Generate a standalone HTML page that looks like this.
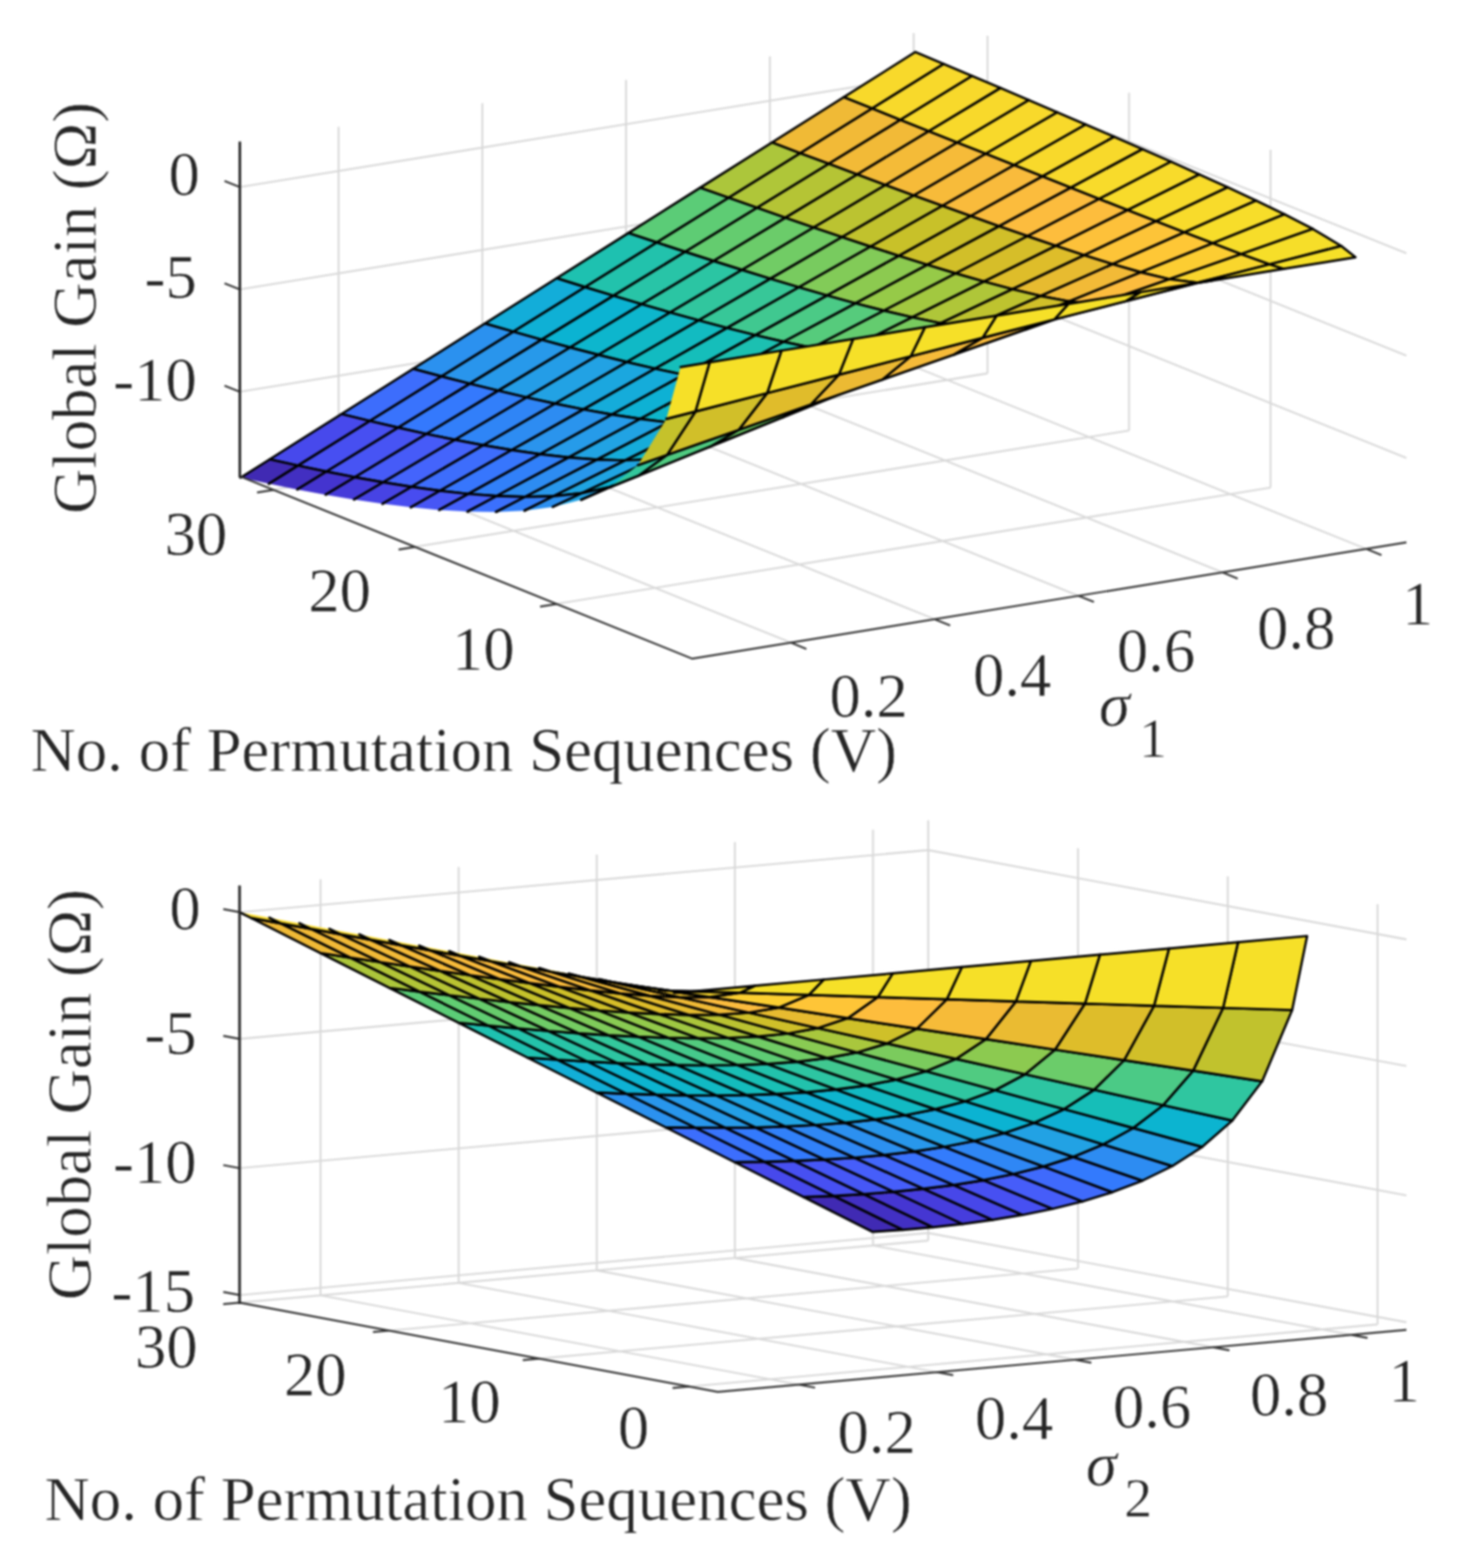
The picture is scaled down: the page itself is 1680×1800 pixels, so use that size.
<!DOCTYPE html>
<html lang="en"><head><meta charset="utf-8"><title>Global Gain surfaces</title>
<style>html,body{margin:0;padding:0;background:#fff;overflow:hidden}svg{display:block}</style></head>
<body>
<svg width="1680" height="1800" viewBox="0 0 1680 1800">
<defs><filter id="soft" x="0" y="0" width="1680" height="1800" filterUnits="userSpaceOnUse" color-interpolation-filters="sRGB"><feGaussianBlur stdDeviation="0.9"/></filter></defs>
<rect width="1680" height="1800" fill="#fff"/>
<g filter="url(#soft)">
<rect width="1680" height="1800" fill="#fff"/>
<path d="M908.4,737.8 L388.8,528.2 M388.8,528.2 L388.8,145.5 M1073.5,710.9 L553.9,501.3 M553.9,501.3 L553.9,118.6 M1238.5,684 L718.9,474.4 M718.9,474.4 L718.9,91.7 M1403.7,657 L884.1,447.5 M884.1,447.5 L884.1,64.8 M1568.8,630.1 L1049.2,420.6 M1049.2,420.6 L1049.2,37.9 M639,693.3 L1459,559.7 M1459,559.7 L1459,172 M476.5,627.8 L1296.5,494.2 M1296.5,494.2 L1296.5,106.5 M314,562.3 L1134,428.6 M1134,428.6 L1134,40.9 M275.4,214.8 L1095.4,81.2 M1095.4,81.2 L1615,290.7 M275.4,332.3 L1095.4,198.7 M1095.4,198.7 L1615,408.2 M275.4,449.8 L1095.4,316.2 M1095.4,316.2 L1615,525.7" fill="none" stroke="#d8d8d8" stroke-width="2.1"/>
<g stroke="#000" stroke-width="2.7" stroke-linejoin="round" stroke-linecap="round">
<polygon points="1001.4,124.6 1083.8,73.4 1051.2,59.7 968.8,111.6" fill="#f8d92b"/>
<polygon points="919,175.9 1001.4,124.6 968.8,111.6 886.4,163.6" fill="#f0ba36"/>
<polygon points="1034,137.7 1116.4,87.2 1083.8,73.4 1001.4,124.6" fill="#f8d92b"/>
<polygon points="836.6,227.1 919,175.9 886.4,163.6 804,215.5" fill="#acc63b"/>
<polygon points="951.6,188.1 1034,137.7 1001.4,124.6 919,175.9" fill="#f2ba37"/>
<polygon points="1066.6,150.7 1149,101 1116.4,87.2 1034,137.7" fill="#f8d92b"/>
<polygon points="754.2,278.4 836.6,227.1 804,215.5 721.6,267.5" fill="#5bcc77"/>
<polygon points="869.2,238.6 951.6,188.1 919,175.9 836.6,227.1" fill="#afc639"/>
<polygon points="984.2,200.3 1066.6,150.7 1034,137.7 951.6,188.1" fill="#f2ba37"/>
<polygon points="1099.2,163.7 1181.6,114.9 1149,101 1066.6,150.7" fill="#f8d92b"/>
<polygon points="671.8,329.6 754.2,278.4 721.6,267.5 639.2,319.4" fill="#1ec1b0"/>
<polygon points="786.8,289.1 869.2,238.6 836.6,227.1 754.2,278.4" fill="#5ecc74"/>
<polygon points="901.8,250 984.2,200.3 951.6,188.1 869.2,238.6" fill="#b5c435"/>
<polygon points="1016.8,212.4 1099.2,163.7 1066.6,150.7 984.2,200.3" fill="#f4bb38"/>
<polygon points="1131.8,176.6 1214.2,128.9 1181.6,114.9 1099.2,163.7" fill="#f8d92b"/>
<polygon points="589.4,380.8 671.8,329.6 639.2,319.4 556.8,371.4" fill="#13add9"/>
<polygon points="704.4,339.5 786.8,289.1 754.2,278.4 671.8,329.6" fill="#22c2ac"/>
<polygon points="819.4,299.6 901.8,250 869.2,238.6 786.8,289.1" fill="#64cc6f"/>
<polygon points="934.4,261.2 1016.8,212.4 984.2,200.3 901.8,250" fill="#b8c433"/>
<polygon points="1049.4,224.4 1131.8,176.6 1099.2,163.7 1016.8,212.4" fill="#f6bb39"/>
<polygon points="507,432.1 589.4,380.8 556.8,371.4 474.4,423.4" fill="#2b91ef"/>
<polygon points="1164.4,189.6 1246.8,142.9 1214.2,128.9 1131.8,176.6" fill="#f8d92b"/>
<polygon points="622,390 704.4,339.5 671.8,329.6 589.4,380.8" fill="#0fb0d5"/>
<polygon points="737,349.2 819.4,299.6 786.8,289.1 704.4,339.5" fill="#28c4a7"/>
<polygon points="852,309.9 934.4,261.2 901.8,250 819.4,299.6" fill="#6bcc6a"/>
<polygon points="967,272.2 1049.4,224.4 1016.8,212.4 934.4,261.2" fill="#bbc331"/>
<polygon points="424.6,483.3 507,432.1 474.4,423.4 392,475.3" fill="#3d6dfc"/>
<polygon points="1082,236.3 1164.4,189.6 1131.8,176.6 1049.4,224.4" fill="#f7bb3a"/>
<polygon points="539.6,440.5 622,390 589.4,380.8 507,432.1" fill="#2995ec"/>
<polygon points="1197,202.5 1279.4,157 1246.8,142.9 1164.4,189.6" fill="#f8d92b"/>
<polygon points="654.6,398.9 737,349.2 704.4,339.5 622,390" fill="#0bb3d2"/>
<polygon points="769.6,358.7 852,309.9 819.4,299.6 737,349.2" fill="#2bc5a3"/>
<polygon points="884.6,320 967,272.2 934.4,261.2 852,309.9" fill="#71cc65"/>
<polygon points="342.2,534.5 424.6,483.3 392,475.3 309.6,527.3" fill="#4749ec"/>
<polygon points="999.6,283.1 1082,236.3 1049.4,224.4 967,272.2" fill="#c1c22d"/>
<polygon points="457.2,490.9 539.6,440.5 507,432.1 424.6,483.3" fill="#3973fd"/>
<polygon points="1114.6,248.1 1197,202.5 1164.4,189.6 1082,236.3" fill="#f9bb3c"/>
<polygon points="572.2,448.5 654.6,398.9 622,390 539.6,440.5" fill="#2799ea"/>
<polygon points="1229.6,215.5 1312,171.2 1279.4,157 1197,202.5" fill="#f8d92b"/>
<polygon points="308.8,555.3 342.2,534.5 309.6,527.3 276.2,548.3" fill="#402ab3" stroke="none"/>
<path d="M308.8,555.3 L342.2,534.5 M342.2,534.5 L309.6,527.3 M309.6,527.3 L276.2,548.3" fill="none"/>
<polygon points="687.2,407.4 769.6,358.7 737,349.2 654.6,398.9" fill="#0db6cd"/>
<polygon points="802.2,367.8 884.6,320 852,309.9 769.6,358.7" fill="#31c69e"/>
<polygon points="917.2,329.8 999.6,283.1 967,272.2 884.6,320" fill="#78cb5f"/>
<polygon points="374.8,541.4 457.2,490.9 424.6,483.3 342.2,534.5" fill="#474ff1"/>
<polygon points="1032.2,293.7 1114.6,248.1 1082,236.3 999.6,283.1" fill="#c8c129"/>
<polygon points="489.8,498.2 572.2,448.5 539.6,440.5 457.2,490.9" fill="#3479fd"/>
<polygon points="1147.2,259.7 1229.6,215.5 1197,202.5 1114.6,248.1" fill="#fbbc3d"/>
<polygon points="604.8,456.2 687.2,407.4 654.6,398.9 572.2,448.5" fill="#249de7"/>
<polygon points="1262.2,228.4 1344.6,185.6 1312,171.2 1229.6,215.5" fill="#f8db2b"/>
<polygon points="341.4,561.9 374.8,541.4 342.2,534.5 308.8,555.3" fill="#422fc1" stroke="none"/>
<path d="M341.4,561.9 L374.8,541.4 M374.8,541.4 L342.2,534.5 M342.2,534.5 L308.8,555.3" fill="none"/>
<polygon points="719.8,415.6 802.2,367.8 769.6,358.7 687.2,407.4" fill="#10b9c6"/>
<polygon points="834.8,376.5 917.2,329.8 884.6,320 802.2,367.8" fill="#37c798"/>
<polygon points="949.8,339.2 1032.2,293.7 999.6,283.1 917.2,329.8" fill="#82cb58"/>
<polygon points="407.4,547.8 489.8,498.2 457.2,490.9 374.8,541.4" fill="#4754f4"/>
<polygon points="1064.8,304 1147.2,259.7 1114.6,248.1 1032.2,293.7" fill="#cdc029"/>
<polygon points="522.4,504.9 604.8,456.2 572.2,448.5 489.8,498.2" fill="#327ffa"/>
<polygon points="1179.8,271.1 1262.2,228.4 1229.6,215.5 1147.2,259.7" fill="#fcbc3e"/>
<polygon points="1294.8,241.2 1377.2,200.2 1344.6,185.6 1262.2,228.4" fill="#f8db2b"/>
<polygon points="637.4,463.4 719.8,415.6 687.2,407.4 604.8,456.2" fill="#22a2e4"/>
<polygon points="374,567.9 407.4,547.8 374.8,541.4 341.4,561.9" fill="#4434cf" stroke="none"/>
<path d="M374,567.9 L407.4,547.8 M407.4,547.8 L374.8,541.4 M374.8,541.4 L341.4,561.9" fill="none"/>
<polygon points="752.4,423.2 834.8,376.5 802.2,367.8 719.8,415.6" fill="#12bbc1"/>
<polygon points="867.4,384.8 949.8,339.2 917.2,329.8 834.8,376.5" fill="#40c890"/>
<polygon points="982.4,348.2 1064.8,304 1032.2,293.7 949.8,339.2" fill="#8cca50"/>
<polygon points="440,553.7 522.4,504.9 489.8,498.2 407.4,547.8" fill="#465bf8"/>
<polygon points="1097.4,313.9 1179.8,271.1 1147.2,259.7 1064.8,304" fill="#d1bf29"/>
<polygon points="555,511.1 637.4,463.4 604.8,456.2 522.4,504.9" fill="#2f85f6"/>
<polygon points="1212.4,282.2 1294.8,241.2 1262.2,228.4 1179.8,271.1" fill="#fdbd3d"/>
<polygon points="1327.4,254 1409.8,215 1377.2,200.2 1294.8,241.2" fill="#f8db2b"/>
<polygon points="670,470 752.4,423.2 719.8,415.6 637.4,463.4" fill="#1ba7df"/>
<polygon points="406.6,573.4 440,553.7 407.4,547.8 374,567.9" fill="#453bda" stroke="none"/>
<path d="M406.6,573.4 L440,553.7 M440,553.7 L407.4,547.8 M407.4,547.8 L374,567.9" fill="none"/>
<polygon points="785,430.3 867.4,384.8 834.8,376.5 752.4,423.2" fill="#15beba"/>
<polygon points="900,392.4 982.4,348.2 949.8,339.2 867.4,384.8" fill="#4bca86"/>
<polygon points="1015,356.6 1097.4,313.9 1064.8,304 982.4,348.2" fill="#96ca48"/>
<polygon points="472.6,558.9 555,511.1 522.4,504.9 440,553.7" fill="#4464fc"/>
<polygon points="1130,323.3 1212.4,282.2 1179.8,271.1 1097.4,313.9" fill="#d6be29"/>
<polygon points="1245,293 1327.4,254 1294.8,241.2 1212.4,282.2" fill="#fdc13a"/>
<polygon points="587.6,516.7 670,470 637.4,463.4 555,511.1" fill="#2d8cf2"/>
<polygon points="1360,266.7 1442.4,230.2 1409.8,215 1327.4,254" fill="#f8db2b"/>
<polygon points="702.6,475.9 785,430.3 752.4,423.2 670,470" fill="#15acda"/>
<polygon points="817.6,436.7 900,392.4 867.4,384.8 785,430.3" fill="#1cc0b1"/>
<polygon points="439.2,578.3 472.6,558.9 440,553.7 406.6,573.4" fill="#4743e4" stroke="none"/>
<path d="M439.2,578.3 L472.6,558.9 M472.6,558.9 L440,553.7 M440,553.7 L406.6,573.4" fill="none"/>
<polygon points="932.6,399.4 1015,356.6 982.4,348.2 900,392.4" fill="#56cb7c"/>
<polygon points="1047.6,364.3 1130,323.3 1097.4,313.9 1015,356.6" fill="#a2c840"/>
<polygon points="505.2,563.4 587.6,516.7 555,511.1 472.6,558.9" fill="#3d6dfc"/>
<polygon points="1162.6,332 1245,293 1212.4,282.2 1130,323.3" fill="#debd2a"/>
<polygon points="1277.6,303.2 1360,266.7 1327.4,254 1245,293" fill="#fdc438"/>
<polygon points="620.2,521.4 702.6,475.9 670,470 587.6,516.7" fill="#2a94ed"/>
<polygon points="1392.6,279.3 1475,246 1442.4,230.2 1360,266.7" fill="#f7dd2a"/>
<polygon points="735.2,480.9 817.6,436.7 785,430.3 702.6,475.9" fill="#0eb1d4"/>
<polygon points="850.2,442.1 932.6,399.4 900,392.4 817.6,436.7" fill="#26c3a9"/>
<polygon points="471.8,582.3 505.2,563.4 472.6,558.9 439.2,578.3" fill="#484cf0" stroke="none"/>
<path d="M471.8,582.3 L505.2,563.4 M505.2,563.4 L472.6,558.9 M472.6,558.9 L439.2,578.3" fill="none"/>
<polygon points="965.2,405.4 1047.6,364.3 1015,356.6 932.6,399.4" fill="#64cc6f"/>
<polygon points="1080.2,371 1162.6,332 1130,323.3 1047.6,364.3" fill="#afc639"/>
<polygon points="537.8,567 620.2,521.4 587.6,516.7 505.2,563.4" fill="#3776fd"/>
<polygon points="1195.2,339.8 1277.6,303.2 1245,293 1162.6,332" fill="#e7bb30"/>
<polygon points="1310.2,312.6 1392.6,279.3 1360,266.7 1277.6,303.2" fill="#fec736"/>
<polygon points="652.8,525.2 735.2,480.9 702.6,475.9 620.2,521.4" fill="#269be9"/>
<polygon points="1425.2,291.7 1507.6,262.8 1475,246 1392.6,279.3" fill="#f7dd2a"/>
<polygon points="767.8,484.9 850.2,442.1 817.6,436.7 735.2,480.9" fill="#0eb6cb"/>
<polygon points="882.8,446.4 965.2,405.4 932.6,399.4 850.2,442.1" fill="#31c69e"/>
<polygon points="504.4,585.4 537.8,567 505.2,563.4 471.8,582.3" fill="#4756f5" stroke="none"/>
<path d="M504.4,585.4 L537.8,567 M537.8,567 L505.2,563.4 M505.2,563.4 L471.8,582.3" fill="none"/>
<polygon points="997.8,410.1 1080.2,371 1047.6,364.3 965.2,405.4" fill="#78cb5f"/>
<polygon points="1112.8,376.3 1195.2,339.8 1162.6,332 1080.2,371" fill="#bec32f"/>
<polygon points="1227.8,346 1310.2,312.6 1277.6,303.2 1195.2,339.8" fill="#f2ba37"/>
<polygon points="570.4,569.4 652.8,525.2 620.2,521.4 537.8,567" fill="#3180f9"/>
<polygon points="1342.8,320.5 1425.2,291.7 1392.6,279.3 1310.2,312.6" fill="#fccd32"/>
<polygon points="1457.8,303.5 1540.2,282.4 1507.6,262.8 1425.2,291.7" fill="#f6de29"/>
<polygon points="685.4,527.7 767.8,484.9 735.2,480.9 652.8,525.2" fill="#21a3e3"/>
<polygon points="800.4,487.5 882.8,446.4 850.2,442.1 767.8,484.9" fill="#13bbbf"/>
<polygon points="915.4,449.1 997.8,410.1 965.2,405.4 882.8,446.4" fill="#42c98e"/>
<polygon points="537,587.3 570.4,569.4 537.8,567 504.4,585.4" fill="#4561fc" stroke="none"/>
<path d="M537,587.3 L570.4,569.4 M570.4,569.4 L537.8,567 M537.8,567 L504.4,585.4" fill="none"/>
<polygon points="1030.4,412.8 1112.8,376.3 1080.2,371 997.8,410.1" fill="#8fca4d"/>
<polygon points="1145.4,379.3 1227.8,346 1195.2,339.8 1112.8,376.3" fill="#d1bf29"/>
<polygon points="1474.1,308.7 1556.5,295.3 1540.2,282.4 1457.8,303.5" fill="#f6e028"/>
<polygon points="1260.4,349.3 1342.8,320.5 1310.2,312.6 1227.8,346" fill="#fcbc3e"/>
<polygon points="603,570.4 685.4,527.7 652.8,525.2 570.4,569.4" fill="#2d8cf2"/>
<polygon points="1375.4,324.6 1457.8,303.5 1425.2,291.7 1342.8,320.5" fill="#f9d62d"/>
<polygon points="718,528.5 800.4,487.5 767.8,484.9 685.4,527.7" fill="#15acda"/>
<polygon points="833,488.1 915.4,449.1 882.8,446.4 800.4,487.5" fill="#1ec1b0"/>
<polygon points="948,449.4 1030.4,412.8 997.8,410.1 915.4,449.1" fill="#5bcc77"/>
<polygon points="569.6,587.7 603,570.4 570.4,569.4 537,587.3" fill="#3b70fd" stroke="none"/>
<path d="M569.6,587.7 L603,570.4 M603,570.4 L570.4,569.4 M570.4,569.4 L537,587.3" fill="none"/>
<polygon points="1063,412.6 1145.4,379.3 1112.8,376.3 1030.4,412.8" fill="#acc63b"/>
<polygon points="1391.7,322.1 1474.1,308.7 1457.8,303.5 1375.4,324.6" fill="#f6e028"/>
<polygon points="1178,378.1 1260.4,349.3 1227.8,346 1145.4,379.3" fill="#eabb32"/>
<polygon points="1293,345.7 1375.4,324.6 1342.8,320.5 1260.4,349.3" fill="#fccf31"/>
<polygon points="635.6,569.6 718,528.5 685.4,527.7 603,570.4" fill="#2897eb"/>
<polygon points="750.6,527.1 833,488.1 800.4,487.5 718,528.5" fill="#0db6cd"/>
<polygon points="865.6,485.9 948,449.4 915.4,449.1 833,488.1" fill="#31c69e"/>
<polygon points="980.6,446 1063,412.6 1030.4,412.8 948,449.4" fill="#7fcb5a"/>
<polygon points="602.2,586.2 635.6,569.6 603,570.4 569.6,587.7" fill="#327ffa" stroke="none"/>
<path d="M602.2,586.2 L635.6,569.6 M635.6,569.6 L603,570.4 M603,570.4 L569.6,587.7" fill="none"/>
<polygon points="1095.6,407 1178,378.1 1145.4,379.3 1063,412.6" fill="#cfc029"/>
<polygon points="1309.3,335.5 1391.7,322.1 1375.4,324.6 1293,345.7" fill="#f6e028"/>
<polygon points="1210.6,366.8 1293,345.7 1260.4,349.3 1178,378.1" fill="#fec736"/>
<polygon points="668.2,566.1 750.6,527.1 718,528.5 635.6,569.6" fill="#1fa4e2"/>
<polygon points="783.2,522.4 865.6,485.9 833,488.1 750.6,527.1" fill="#16beb8"/>
<polygon points="898.2,479.3 980.6,446 948,449.4 865.6,485.9" fill="#56cb7c"/>
<polygon points="1013.2,435.8 1095.6,407 1063,412.6 980.6,446" fill="#b2c537"/>
<polygon points="634.8,581.9 668.2,566.1 635.6,569.6 602.2,586.2" fill="#2c90f0" stroke="none"/>
<path d="M634.8,581.9 L668.2,566.1 M668.2,566.1 L635.6,569.6 M635.6,569.6 L602.2,586.2" fill="none"/>
<polygon points="1226.9,348.9 1309.3,335.5 1293,345.7 1210.6,366.8" fill="#f6e028"/>
<polygon points="1128.2,387.9 1210.6,366.8 1178,378.1 1095.6,407" fill="#fdbd3d"/>
<polygon points="700.8,559 783.2,522.4 750.6,527.1 668.2,566.1" fill="#0cb2d3"/>
<polygon points="815.8,512.6 898.2,479.3 865.6,485.9 783.2,522.4" fill="#31c69e"/>
<polygon points="930.8,464.6 1013.2,435.8 980.6,446 898.2,479.3" fill="#93ca4b"/>
<polygon points="1144.5,362.3 1226.9,348.9 1210.6,366.8 1128.2,387.9" fill="#f6e028"/>
<polygon points="667.4,573.8 700.8,559 668.2,566.1 634.8,581.9" fill="#22a2e4" stroke="none"/>
<path d="M667.4,573.8 L700.8,559 M700.8,559 L668.2,566.1 M668.2,566.1 L634.8,581.9" fill="none"/>
<polygon points="1045.8,409 1128.2,387.9 1095.6,407 1013.2,435.8" fill="#f6bb39"/>
<polygon points="733.4,546 815.8,512.6 783.2,522.4 700.8,559" fill="#19bfb5"/>
<polygon points="848.4,493.4 930.8,464.6 898.2,479.3 815.8,512.6" fill="#6ecc67"/>
<polygon points="1062.1,375.7 1144.5,362.3 1128.2,387.9 1045.8,409" fill="#f6e028"/>
<polygon points="963.4,430.1 1045.8,409 1013.2,435.8 930.8,464.6" fill="#ecba33"/>
<polygon points="700,559.5 733.4,546 700.8,559 667.4,573.8" fill="#0db6cd" stroke="none"/>
<path d="M700,559.5 L733.4,546 M733.4,546 L700.8,559 M700.8,559 L667.4,573.8" fill="none"/>
<polygon points="766,522.2 848.4,493.4 815.8,512.6 733.4,546" fill="#50cb81"/>
<polygon points="881,451.2 963.4,430.1 930.8,464.6 848.4,493.4" fill="#e0bc2b"/>
<polygon points="979.7,389.1 1062.1,375.7 1045.8,409 963.4,430.1" fill="#f6e028"/>
<polygon points="732.6,533.9 766,522.2 733.4,546 700,559.5" fill="#33c79c" stroke="none"/>
<path d="M732.6,533.9 L766,522.2 M766,522.2 L733.4,546 M733.4,546 L700,559.5" fill="none"/>
<polygon points="798.6,472.4 881,451.2 848.4,493.4 766,522.2" fill="#d1bf29"/>
<polygon points="897.3,402.5 979.7,389.1 963.4,430.1 881,451.2" fill="#f6e028"/>
<polygon points="765.2,480.9 798.6,472.4 766,522.2 732.6,533.9" fill="#c5c22b" stroke="none"/>
<path d="M765.2,480.9 L798.6,472.4 M798.6,472.4 L766,522.2 M766,522.2 L732.6,533.9" fill="none"/>
<polygon points="814.9,415.9 897.3,402.5 881,451.2 798.6,472.4" fill="#f6e028"/>
<polygon points="781.5,421.3 814.9,415.9 798.6,472.4 765.2,480.9" fill="#f6e028" stroke="none"/>
<path d="M781.5,421.3 L814.9,415.9 M814.9,415.9 L798.6,472.4 M798.6,472.4 L765.2,480.9" fill="none"/>
</g>
<path d="M275.4,546.7 L795,756.2 L1615,622.6 M908.4,737.8 L926,744.9 M1073.5,710.9 L1091.1,718 M1238.5,684 L1256.2,691.1 M1403.7,657 L1421.3,664.2 M1568.8,630.1 L1586.4,637.2 M639,693.3 L620.2,696.4 M476.5,627.8 L457.7,630.9 M314,562.3 L295.2,565.3 M275.4,214.8 L257.8,207.7 M275.4,332.3 L257.8,325.2 M275.4,449.8 L257.8,442.7" fill="none" stroke="#333333" stroke-width="2.2" stroke-linejoin="miter"/>
<path d="M275.4,164 L275.4,546.7" fill="none" stroke="#262626" stroke-width="3.0" stroke-linecap="square"/>
<path d="M917.3,1589.5 L368.1,1487 M368.1,1487 L368.1,1009.6 M1075.9,1575.2 L526.7,1472.7 M526.7,1472.7 L526.7,995.3 M1234.5,1560.9 L685.3,1458.4 M685.3,1458.4 L685.3,981 M1393.1,1546.6 L843.9,1444.1 M843.9,1444.1 L843.9,966.7 M1551.7,1532.3 L1002.5,1429.8 M1002.5,1429.8 L1002.5,952.4 M791.2,1591.7 L1581.9,1520.4 M1581.9,1520.4 L1581.9,1038 M619.2,1559.6 L1409.9,1488.3 M1409.9,1488.3 L1409.9,1005.9 M447.2,1527.5 L1237.9,1456.2 M1237.9,1456.2 L1237.9,973.8 M275.2,1495.4 L1065.9,1424.1 M1065.9,1424.1 L1065.9,941.7 M275.1,1047.2 L1065.8,975.9 M1065.8,975.9 L1615,1078.4 M275.1,1192.6 L1065.8,1121.3 M1065.8,1121.3 L1615,1223.8 M275.1,1341 L1065.8,1269.7 M1065.8,1269.7 L1615,1372.2 M275.1,1486.7 L1065.8,1415.4 M1065.8,1415.4 L1615,1517.9" fill="none" stroke="#d8d8d8" stroke-width="2.1"/>
<g stroke="#000" stroke-width="2.7" stroke-linejoin="round" stroke-linecap="round">
<polygon points="957.3,1372.8 1036.6,1411.8 1002.2,1414.2 922.9,1374.2" fill="#402ab3"/>
<polygon points="991.7,1370.8 1071,1408.8 1036.6,1411.8 957.3,1372.8" fill="#4230c4"/>
<polygon points="878,1333.7 957.3,1372.8 922.9,1374.2 843.6,1334.1" fill="#4749ec"/>
<polygon points="1026.1,1368.1 1105.4,1405.1 1071,1408.8 991.7,1370.8" fill="#4536d2"/>
<polygon points="912.4,1332.7 991.7,1370.8 957.3,1372.8 878,1333.7" fill="#4750f2"/>
<polygon points="798.7,1294.6 878,1333.7 843.6,1334.1 764.3,1294.1" fill="#3c6efd"/>
<polygon points="1060.5,1364.7 1139.8,1400.4 1105.4,1405.1 1026.1,1368.1" fill="#463ddd"/>
<polygon points="946.8,1331.2 1026.1,1368.1 991.7,1370.8 912.4,1332.7" fill="#4657f6"/>
<polygon points="833.1,1294.7 912.4,1332.7 878,1333.7 798.7,1294.6" fill="#3874fd"/>
<polygon points="719.4,1255.6 798.7,1294.6 764.3,1294.1 685,1254.1" fill="#2b91ef"/>
<polygon points="1094.9,1360.3 1174.2,1394.7 1139.8,1400.4 1060.5,1364.7" fill="#4747e9"/>
<polygon points="981.2,1329 1060.5,1364.7 1026.1,1368.1 946.8,1331.2" fill="#465efa"/>
<polygon points="867.5,1294.3 946.8,1331.2 912.4,1332.7 833.1,1294.7" fill="#337afd"/>
<polygon points="753.8,1256.7 833.1,1294.7 798.7,1294.6 719.4,1255.6" fill="#2896ec"/>
<polygon points="640.1,1216.5 719.4,1255.6 685,1254.1 605.7,1214.1" fill="#12aed7"/>
<polygon points="1129.3,1354.8 1208.6,1387.7 1174.2,1394.7 1094.9,1360.3" fill="#4750f2"/>
<polygon points="1015.6,1325.9 1094.9,1360.3 1060.5,1364.7 981.2,1329" fill="#4267fc"/>
<polygon points="901.9,1293.2 981.2,1329 946.8,1331.2 867.5,1294.3" fill="#3181f9"/>
<polygon points="788.2,1257.3 867.5,1294.3 833.1,1294.7 753.8,1256.7" fill="#269ae9"/>
<polygon points="674.5,1218.6 753.8,1256.7 719.4,1255.6 640.1,1216.5" fill="#0eb1d4"/>
<polygon points="1163.7,1347.8 1243,1379.2 1208.6,1387.7 1129.3,1354.8" fill="#465df9"/>
<polygon points="560.8,1177.4 640.1,1216.5 605.7,1214.1 526.4,1174" fill="#1ec1b0"/>
<polygon points="1050,1321.8 1129.3,1354.8 1094.9,1360.3 1015.6,1325.9" fill="#3a71fd"/>
<polygon points="936.3,1291.5 1015.6,1325.9 981.2,1329 901.9,1293.2" fill="#2f88f4"/>
<polygon points="822.6,1257.5 901.9,1293.2 867.5,1294.3 788.2,1257.3" fill="#23a0e6"/>
<polygon points="708.9,1220.4 788.2,1257.3 753.8,1256.7 674.5,1218.6" fill="#0cb4d0"/>
<polygon points="595.2,1180.6 674.5,1218.6 640.1,1216.5 560.8,1177.4" fill="#24c3aa"/>
<polygon points="1198.1,1339.1 1277.4,1368.6 1243,1379.2 1163.7,1347.8" fill="#3f6afc"/>
<polygon points="1084.4,1316.5 1163.7,1347.8 1129.3,1354.8 1050,1321.8" fill="#337cfc"/>
<polygon points="481.5,1138.3 560.8,1177.4 526.4,1174 447.1,1134" fill="#5bcc77"/>
<polygon points="970.7,1288.9 1050,1321.8 1015.6,1325.9 936.3,1291.5" fill="#2c90f0"/>
<polygon points="857,1257.1 936.3,1291.5 901.9,1293.2 822.6,1257.5" fill="#1fa4e2"/>
<polygon points="743.3,1221.8 822.6,1257.5 788.2,1257.3 708.9,1220.4" fill="#0eb6cb"/>
<polygon points="629.6,1183.5 708.9,1220.4 674.5,1218.6 595.2,1180.6" fill="#28c4a7"/>
<polygon points="1232.5,1328.1 1311.8,1355.4 1277.4,1368.6 1198.1,1339.1" fill="#337afd"/>
<polygon points="1118.8,1309.7 1198.1,1339.1 1163.7,1347.8 1084.4,1316.5" fill="#2f87f5"/>
<polygon points="515.9,1142.5 595.2,1180.6 560.8,1177.4 481.5,1138.3" fill="#61cd72"/>
<polygon points="1005.1,1285.2 1084.4,1316.5 1050,1321.8 970.7,1288.9" fill="#2897eb"/>
<polygon points="402.2,1099.3 481.5,1138.3 447.1,1134 367.8,1094" fill="#acc63b"/>
<polygon points="891.4,1255.9 970.7,1288.9 936.3,1291.5 857,1257.1" fill="#19a9dd"/>
<polygon points="777.7,1222.7 857,1257.1 822.6,1257.5 743.3,1221.8" fill="#11b9c4"/>
<polygon points="664,1186.1 743.3,1221.8 708.9,1220.4 629.6,1183.5" fill="#2dc5a2"/>
<polygon points="1266.9,1313.8 1346.2,1338.6 1311.8,1355.4 1232.5,1328.1" fill="#2d8cf2"/>
<polygon points="550.3,1146.5 629.6,1183.5 595.2,1180.6 515.9,1142.5" fill="#67cc6c"/>
<polygon points="1153.2,1300.7 1232.5,1328.1 1198.1,1339.1 1118.8,1309.7" fill="#2a94ed"/>
<polygon points="1039.5,1280.2 1118.8,1309.7 1084.4,1316.5 1005.1,1285.2" fill="#22a1e5"/>
<polygon points="436.6,1104.5 515.9,1142.5 481.5,1138.3 402.2,1099.3" fill="#b2c537"/>
<polygon points="925.8,1253.9 1005.1,1285.2 970.7,1288.9 891.4,1255.9" fill="#10afd6"/>
<polygon points="322.9,1060.2 402.2,1099.3 367.8,1094 288.5,1053.9" fill="#f0ba36"/>
<polygon points="812.1,1223 891.4,1255.9 857,1257.1 777.7,1222.7" fill="#14bcbd"/>
<polygon points="698.4,1188.3 777.7,1222.7 743.3,1221.8 664,1186.1" fill="#33c79c"/>
<polygon points="1301.3,1294.9 1380.6,1316.6 1346.2,1338.6 1266.9,1313.8" fill="#23a0e6"/>
<polygon points="584.7,1150.3 664,1186.1 629.6,1183.5 550.3,1146.5" fill="#6ecc67"/>
<polygon points="1187.6,1289 1266.9,1313.8 1232.5,1328.1 1153.2,1300.7" fill="#22a2e4"/>
<polygon points="309.5,1053.6 322.9,1060.2 288.5,1053.9 275.1,1047.2" fill="#f8d92b" stroke="none"/>
<path d="M309.5,1053.6 L322.9,1060.2 M322.9,1060.2 L288.5,1053.9 M288.5,1053.9 L275.1,1047.2" fill="none"/>
<polygon points="471,1109.6 550.3,1146.5 515.9,1142.5 436.6,1104.5" fill="#b5c435"/>
<polygon points="1073.9,1273.4 1153.2,1300.7 1118.8,1309.7 1039.5,1280.2" fill="#19a9dd"/>
<polygon points="960.2,1250.7 1039.5,1280.2 1005.1,1285.2 925.8,1253.9" fill="#0db5cf"/>
<polygon points="357.3,1066.4 436.6,1104.5 402.2,1099.3 322.9,1060.2" fill="#f2ba37"/>
<polygon points="846.5,1222.6 925.8,1253.9 891.4,1255.9 812.1,1223" fill="#19bfb5"/>
<polygon points="732.8,1190.1 812.1,1223 777.7,1222.7 698.4,1188.3" fill="#3ac896"/>
<polygon points="619.1,1153.9 698.4,1188.3 664,1186.1 584.7,1150.3" fill="#75cc62"/>
<polygon points="1335.7,1268.7 1415,1286.4 1380.6,1316.6 1301.3,1294.9" fill="#0cb4d0"/>
<polygon points="1222,1273.2 1301.3,1294.9 1266.9,1313.8 1187.6,1289" fill="#0fb0d5"/>
<polygon points="343.9,1060 357.3,1066.4 322.9,1060.2 309.5,1053.6" fill="#f8d92b" stroke="none"/>
<path d="M343.9,1060 L357.3,1066.4 M357.3,1066.4 L322.9,1060.2 M322.9,1060.2 L309.5,1053.6" fill="none"/>
<polygon points="505.4,1114.6 584.7,1150.3 550.3,1146.5 471,1109.6" fill="#bbc331"/>
<polygon points="1108.3,1264.2 1187.6,1289 1153.2,1300.7 1073.9,1273.4" fill="#0bb3d2"/>
<polygon points="994.6,1246.1 1073.9,1273.4 1039.5,1280.2 960.2,1250.7" fill="#12bac3"/>
<polygon points="391.7,1072.7 471,1109.6 436.6,1104.5 357.3,1066.4" fill="#f2ba37"/>
<polygon points="880.9,1221.3 960.2,1250.7 925.8,1253.9 846.5,1222.6" fill="#22c2ac"/>
<polygon points="767.2,1191.3 846.5,1222.6 812.1,1223 732.8,1190.1" fill="#45c98b"/>
<polygon points="653.5,1157.1 732.8,1190.1 698.4,1188.3 619.1,1153.9" fill="#7fcb5a"/>
<polygon points="1370.1,1229.2 1449.4,1241.3 1415,1286.4 1335.7,1268.7" fill="#2fc6a0"/>
<polygon points="378.3,1066.4 391.7,1072.7 357.3,1066.4 343.9,1060" fill="#f8d92b" stroke="none"/>
<path d="M378.3,1066.4 L391.7,1072.7 M391.7,1072.7 L357.3,1066.4 M357.3,1066.4 L343.9,1060" fill="none"/>
<polygon points="1256.4,1251 1335.7,1268.7 1301.3,1294.9 1222,1273.2" fill="#16beb8"/>
<polygon points="539.8,1119.5 619.1,1153.9 584.7,1150.3 505.4,1114.6" fill="#bec32f"/>
<polygon points="1142.7,1251.5 1222,1273.2 1187.6,1289 1108.3,1264.2" fill="#15bdbc"/>
<polygon points="426.1,1078.9 505.4,1114.6 471,1109.6 391.7,1072.7" fill="#f4bb38"/>
<polygon points="1029,1239.4 1108.3,1264.2 1073.9,1273.4 994.6,1246.1" fill="#1bc0b3"/>
<polygon points="915.3,1218.8 994.6,1246.1 960.2,1250.7 880.9,1221.3" fill="#2dc5a2"/>
<polygon points="801.6,1191.8 880.9,1221.3 846.5,1222.6 767.2,1191.3" fill="#53cb7e"/>
<polygon points="687.9,1160 767.2,1191.3 732.8,1190.1 653.5,1157.1" fill="#89cb53"/>
<polygon points="412.7,1072.8 426.1,1078.9 391.7,1072.7 378.3,1066.4" fill="#f8d92b" stroke="none"/>
<path d="M412.7,1072.8 L426.1,1078.9 M426.1,1078.9 L391.7,1072.7 M391.7,1072.7 L378.3,1066.4" fill="none"/>
<polygon points="574.2,1124.2 653.5,1157.1 619.1,1153.9 539.8,1119.5" fill="#c5c22b"/>
<polygon points="1290.8,1217.1 1370.1,1229.2 1335.7,1268.7 1256.4,1251" fill="#4bca86"/>
<polygon points="1404.5,1157 1483.8,1159.5 1449.4,1241.3 1370.1,1229.2" fill="#c1c22d"/>
<polygon points="1177.1,1233.3 1256.4,1251 1222,1273.2 1142.7,1251.5" fill="#2dc5a2"/>
<polygon points="460.5,1085.1 539.8,1119.5 505.4,1114.6 426.1,1078.9" fill="#f6bb39"/>
<polygon points="1063.4,1229.8 1142.7,1251.5 1108.3,1264.2 1029,1239.4" fill="#2fc6a0"/>
<polygon points="949.7,1214.6 1029,1239.4 994.6,1246.1 915.3,1218.8" fill="#40c890"/>
<polygon points="836,1191.5 915.3,1218.8 880.9,1221.3 801.6,1191.8" fill="#5ecc74"/>
<polygon points="722.3,1162.4 801.6,1191.8 767.2,1191.3 687.9,1160" fill="#93ca4b"/>
<polygon points="447.1,1079.2 460.5,1085.1 426.1,1078.9 412.7,1072.8" fill="#f8d92b" stroke="none"/>
<path d="M447.1,1079.2 L460.5,1085.1 M460.5,1085.1 L426.1,1078.9 M426.1,1078.9 L412.7,1072.8" fill="none"/>
<polygon points="608.6,1128.7 687.9,1160 653.5,1157.1 574.2,1124.2" fill="#cac129"/>
<polygon points="1421.7,1081.6 1501,1074.5 1483.8,1159.5 1404.5,1157" fill="#f6e028"/>
<polygon points="1325.2,1154.6 1404.5,1157 1370.1,1229.2 1290.8,1217.1" fill="#d1bf29"/>
<polygon points="494.9,1091.2 574.2,1124.2 539.8,1119.5 460.5,1085.1" fill="#f7bb3a"/>
<polygon points="1211.5,1205 1290.8,1217.1 1256.4,1251 1177.1,1233.3" fill="#6bcc6a"/>
<polygon points="1097.8,1215.6 1177.1,1233.3 1142.7,1251.5 1063.4,1229.8" fill="#50cb81"/>
<polygon points="984.1,1208.2 1063.4,1229.8 1029,1239.4 949.7,1214.6" fill="#56cb7c"/>
<polygon points="870.4,1189.9 949.7,1214.6 915.3,1218.8 836,1191.5" fill="#71cc65"/>
<polygon points="756.7,1164.1 836,1191.5 801.6,1191.8 722.3,1162.4" fill="#9fc842"/>
<polygon points="481.5,1085.7 494.9,1091.2 460.5,1085.1 447.1,1079.2" fill="#f8d92b" stroke="none"/>
<path d="M481.5,1085.7 L494.9,1091.2 M494.9,1091.2 L460.5,1085.1 M460.5,1085.1 L447.1,1079.2" fill="none"/>
<polygon points="643,1132.9 722.3,1162.4 687.9,1160 608.6,1128.7" fill="#cfc029"/>
<polygon points="1342.4,1088.8 1421.7,1081.6 1404.5,1157 1325.2,1154.6" fill="#f6e028"/>
<polygon points="529.3,1097.4 608.6,1128.7 574.2,1124.2 494.9,1091.2" fill="#f9bb3c"/>
<polygon points="1245.9,1152.1 1325.2,1154.6 1290.8,1217.1 1211.5,1205" fill="#debd2a"/>
<polygon points="1132.2,1192.9 1211.5,1205 1177.1,1233.3 1097.8,1215.6" fill="#8cca50"/>
<polygon points="1018.5,1197.9 1097.8,1215.6 1063.4,1229.8 984.1,1208.2" fill="#7bcb5d"/>
<polygon points="904.8,1186.5 984.1,1208.2 949.7,1214.6 870.4,1189.9" fill="#89cb53"/>
<polygon points="791.1,1165.1 870.4,1189.9 836,1191.5 756.7,1164.1" fill="#acc63b"/>
<polygon points="515.9,1092.1 529.3,1097.4 494.9,1091.2 481.5,1085.7" fill="#f8d92b" stroke="none"/>
<path d="M515.9,1092.1 L529.3,1097.4 M529.3,1097.4 L494.9,1091.2 M494.9,1091.2 L481.5,1085.7" fill="none"/>
<polygon points="677.4,1136.8 756.7,1164.1 722.3,1162.4 643,1132.9" fill="#d6be29"/>
<polygon points="563.7,1103.5 643,1132.9 608.6,1128.7 529.3,1097.4" fill="#fbbc3d"/>
<polygon points="1263.1,1095.9 1342.4,1088.8 1325.2,1154.6 1245.9,1152.1" fill="#f6e028"/>
<polygon points="1166.6,1149.6 1245.9,1152.1 1211.5,1205 1132.2,1192.9" fill="#eabb32"/>
<polygon points="1052.9,1180.9 1132.2,1192.9 1097.8,1215.6 1018.5,1197.9" fill="#afc639"/>
<polygon points="939.2,1180.2 1018.5,1197.9 984.1,1208.2 904.8,1186.5" fill="#a9c73d"/>
<polygon points="825.5,1164.8 904.8,1186.5 870.4,1189.9 791.1,1165.1" fill="#bbc331"/>
<polygon points="550.3,1098.5 563.7,1103.5 529.3,1097.4 515.9,1092.1" fill="#f8db2b" stroke="none"/>
<path d="M550.3,1098.5 L563.7,1103.5 M563.7,1103.5 L529.3,1097.4 M529.3,1097.4 L515.9,1092.1" fill="none"/>
<polygon points="711.8,1140.3 791.1,1165.1 756.7,1164.1 677.4,1136.8" fill="#debd2a"/>
<polygon points="598.1,1109.5 677.4,1136.8 643,1132.9 563.7,1103.5" fill="#fdbd3d"/>
<polygon points="1183.8,1103.1 1263.1,1095.9 1245.9,1152.1 1166.6,1149.6" fill="#f6e028"/>
<polygon points="1087.3,1147.1 1166.6,1149.6 1132.2,1192.9 1052.9,1180.9" fill="#f6bb39"/>
<polygon points="973.6,1168.8 1052.9,1180.9 1018.5,1197.9 939.2,1180.2" fill="#cfc029"/>
<polygon points="859.9,1162.5 939.2,1180.2 904.8,1186.5 825.5,1164.8" fill="#cfc029"/>
<polygon points="584.7,1104.9 598.1,1109.5 563.7,1103.5 550.3,1098.5" fill="#f8db2b" stroke="none"/>
<path d="M584.7,1104.9 L598.1,1109.5 M598.1,1109.5 L563.7,1103.5 M563.7,1103.5 L550.3,1098.5" fill="none"/>
<polygon points="746.2,1143.1 825.5,1164.8 791.1,1165.1 711.8,1140.3" fill="#e5bb2f"/>
<polygon points="632.5,1115.5 711.8,1140.3 677.4,1136.8 598.1,1109.5" fill="#fdbf3c"/>
<polygon points="1104.5,1110.2 1183.8,1103.1 1166.6,1149.6 1087.3,1147.1" fill="#f6e028"/>
<polygon points="1008,1144.7 1087.3,1147.1 1052.9,1180.9 973.6,1168.8" fill="#fdbd3d"/>
<polygon points="894.3,1156.7 973.6,1168.8 939.2,1180.2 859.9,1162.5" fill="#e7bb30"/>
<polygon points="619.1,1111.3 632.5,1115.5 598.1,1109.5 584.7,1104.9" fill="#f8db2b" stroke="none"/>
<path d="M619.1,1111.3 L632.5,1115.5 M632.5,1115.5 L598.1,1109.5 M598.1,1109.5 L584.7,1104.9" fill="none"/>
<polygon points="780.6,1144.8 859.9,1162.5 825.5,1164.8 746.2,1143.1" fill="#f0ba36"/>
<polygon points="666.9,1121.4 746.2,1143.1 711.8,1140.3 632.5,1115.5" fill="#fdc239"/>
<polygon points="1025.2,1117.4 1104.5,1110.2 1087.3,1147.1 1008,1144.7" fill="#f6e028"/>
<polygon points="653.5,1117.7 666.9,1121.4 632.5,1115.5 619.1,1111.3" fill="#f8db2b" stroke="none"/>
<path d="M653.5,1117.7 L666.9,1121.4 M666.9,1121.4 L632.5,1115.5 M632.5,1115.5 L619.1,1111.3" fill="none"/>
<polygon points="928.7,1142.2 1008,1144.7 973.6,1168.8 894.3,1156.7" fill="#fec537"/>
<polygon points="815,1144.6 894.3,1156.7 859.9,1162.5 780.6,1144.8" fill="#fcbc3e"/>
<polygon points="701.3,1127.1 780.6,1144.8 746.2,1143.1 666.9,1121.4" fill="#fec736"/>
<polygon points="945.9,1124.5 1025.2,1117.4 1008,1144.7 928.7,1142.2" fill="#f6e028"/>
<polygon points="687.9,1124.1 701.3,1127.1 666.9,1121.4 653.5,1117.7" fill="#f7dd2a" stroke="none"/>
<path d="M687.9,1124.1 L701.3,1127.1 M701.3,1127.1 L666.9,1121.4 M666.9,1121.4 L653.5,1117.7" fill="none"/>
<polygon points="849.4,1139.7 928.7,1142.2 894.3,1156.7 815,1144.6" fill="#fccf31"/>
<polygon points="735.7,1132.5 815,1144.6 780.6,1144.8 701.3,1127.1" fill="#fccd32"/>
<polygon points="866.6,1131.7 945.9,1124.5 928.7,1142.2 849.4,1139.7" fill="#f6e028"/>
<polygon points="722.3,1130.5 735.7,1132.5 701.3,1127.1 687.9,1124.1" fill="#f7dd2a" stroke="none"/>
<path d="M722.3,1130.5 L735.7,1132.5 M735.7,1132.5 L701.3,1127.1 M701.3,1127.1 L687.9,1124.1" fill="none"/>
<polygon points="770.1,1137.3 849.4,1139.7 815,1144.6 735.7,1132.5" fill="#f9d62d"/>
<polygon points="756.7,1136.9 770.1,1137.3 735.7,1132.5 722.3,1130.5" fill="#f6de29" stroke="none"/>
<path d="M756.7,1136.9 L770.1,1137.3 M770.1,1137.3 L735.7,1132.5 M735.7,1132.5 L722.3,1130.5" fill="none"/>
<polygon points="787.3,1138.8 866.6,1131.7 849.4,1139.7 770.1,1137.3" fill="#f6e028"/>
<polygon points="773.9,1140 787.3,1138.8 770.1,1137.3 756.7,1136.9" fill="#f6e028" stroke="none"/>
<path d="M773.9,1140 L787.3,1138.8 M787.3,1138.8 L770.1,1137.3 M770.1,1137.3 L756.7,1136.9" fill="none"/>
</g>
<path d="M275.1,1495.4 L824.3,1597.9 L1615,1526.6 M917.3,1589.5 L936,1593 M1075.9,1575.2 L1094.6,1578.7 M1234.5,1560.9 L1253.2,1564.4 M1393.1,1546.6 L1411.8,1550.1 M1551.7,1532.3 L1570.4,1535.8 M791.2,1591.7 L772.3,1593.4 M619.2,1559.6 L600.3,1561.3 M447.2,1527.5 L428.3,1529.2 M275.2,1495.4 L256.3,1497.1 M275.1,1047.2 L256.4,1043.7 M275.1,1192.6 L256.4,1189.1 M275.1,1341 L256.4,1337.5 M275.1,1486.7 L256.4,1483.2" fill="none" stroke="#333333" stroke-width="2.2" stroke-linejoin="miter"/>
<path d="M275.1,1018 L275.1,1495.4" fill="none" stroke="#262626" stroke-width="3.0" stroke-linecap="square"/>
<g font-family="'Liberation Serif', serif" fill="#262626" stroke="#fff" stroke-width="0.6" stroke-linejoin="round">
<text x="229.5" y="224" font-size="72" text-anchor="end">0</text>
<text x="226" y="342" font-size="72" text-anchor="end">-5</text>
<text x="226" y="459.5" font-size="72" text-anchor="end">-10</text>
<text x="225" y="637" font-size="72" text-anchor="middle">30</text>
<text x="390" y="701.5" font-size="72" text-anchor="middle">20</text>
<text x="555" y="769" font-size="72" text-anchor="middle">10</text>
<text x="997.5" y="823" font-size="72" text-anchor="middle">0.2</text>
<text x="1162.3" y="799" font-size="72" text-anchor="middle">0.4</text>
<text x="1327.5" y="771" font-size="72" text-anchor="middle">0.6</text>
<text x="1488.4" y="745" font-size="72" text-anchor="middle">0.8</text>
<text x="1628" y="716.5" font-size="72" text-anchor="middle">1</text>
<text x="35" y="885" font-size="72" textLength="995" lengthAdjust="spacingAndGlyphs">No. of Permutation Sequences (V)</text>
<text x="109.5" y="353.5" font-size="72" text-anchor="middle" transform="rotate(-90 109.5 353.5)" textLength="473" lengthAdjust="spacingAndGlyphs">Global Gain (Ω)</text>
<text x="1262" y="833" font-size="72" font-style="italic">σ</text>
<text x="1308" y="868.5" font-size="64">1</text>
<text x="230.5" y="1067" font-size="72" text-anchor="end">0</text>
<text x="225.7" y="1210.3" font-size="72" text-anchor="end">-5</text>
<text x="225.7" y="1358.3" font-size="72" text-anchor="end">-10</text>
<text x="224" y="1506.3" font-size="72" text-anchor="end">-15</text>
<text x="191" y="1569.5" font-size="72" text-anchor="middle">30</text>
<text x="362" y="1601.5" font-size="72" text-anchor="middle">20</text>
<text x="539" y="1632.5" font-size="72" text-anchor="middle">10</text>
<text x="727.5" y="1662.5" font-size="72" text-anchor="middle">0</text>
<text x="1006.8" y="1668" font-size="72" text-anchor="middle">0.2</text>
<text x="1164.6" y="1652.3" font-size="72" text-anchor="middle">0.4</text>
<text x="1323" y="1639.3" font-size="72" text-anchor="middle">0.6</text>
<text x="1480.3" y="1625.3" font-size="72" text-anchor="middle">0.8</text>
<text x="1612.6" y="1609" font-size="72" text-anchor="middle">1</text>
<text x="51" y="1745" font-size="72" textLength="996" lengthAdjust="spacingAndGlyphs">No. of Permutation Sequences (V)</text>
<text x="103.5" y="1256.5" font-size="72" text-anchor="middle" transform="rotate(-90 103.5 1256.5)" textLength="472" lengthAdjust="spacingAndGlyphs">Global Gain (Ω)</text>
<text x="1247" y="1705" font-size="72" font-style="italic">σ</text>
<text x="1291" y="1741" font-size="64">2</text>
</g>
</g>
</svg>
</body></html>
